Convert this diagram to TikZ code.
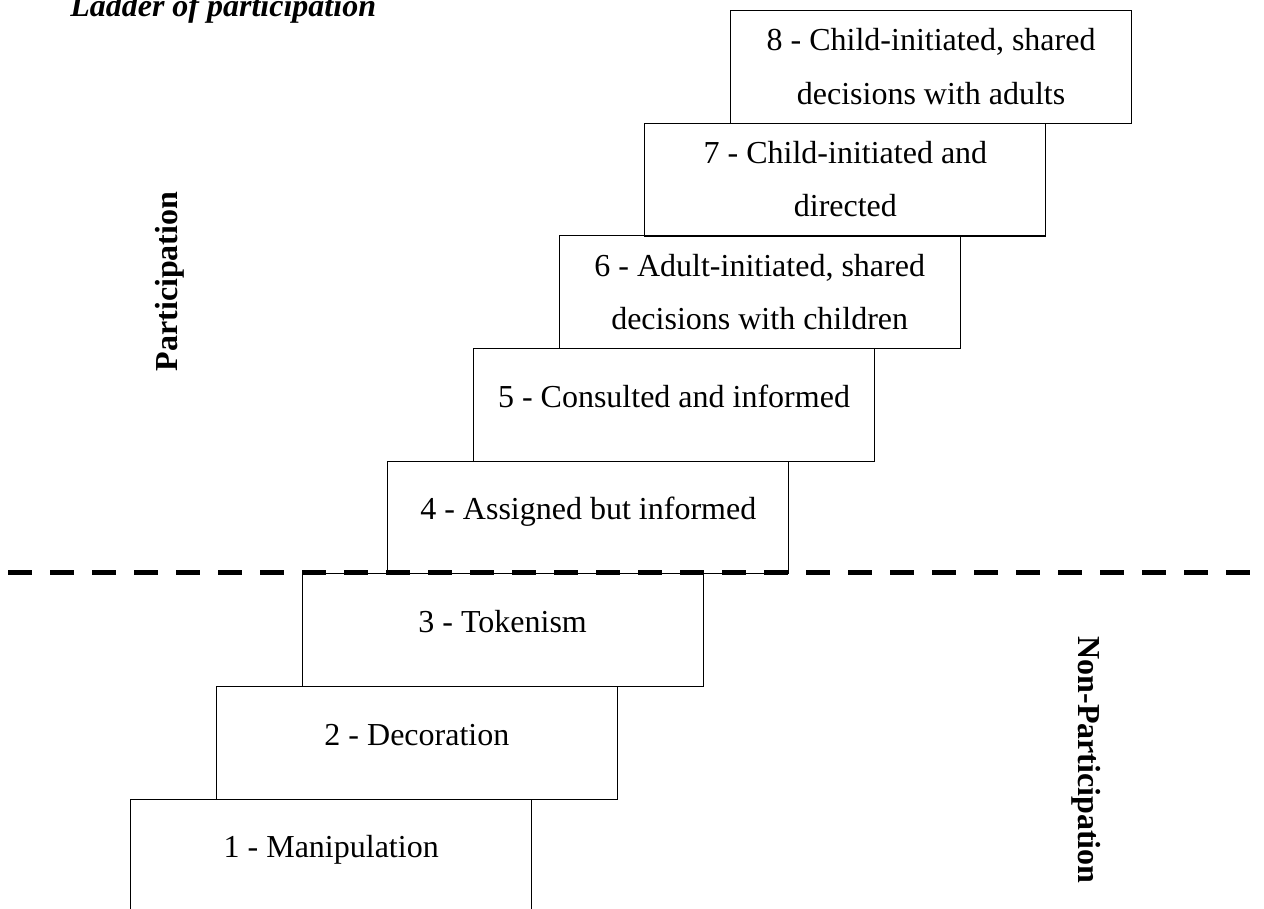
\documentclass[tikz,border=0pt]{standalone}
\usepackage{fontspec}
\setmainfont{Liberation Serif}
\usepackage{tikz}
\usetikzlibrary{positioning}

\tikzset{rung/.style={draw, line width=0.8pt, minimum width=300.75pt, minimum height=84.5pt,
    inner sep=0pt, align=center, font=\fontsize{24}{36}\selectfont}}
% label with its first baseline #1 above the middle of the rung
\newcommand{\rungtext}[2]{\raisebox{#1}[0pt][0pt]{\begin{tabular}[t]{@{}c@{}}#2\end{tabular}}}

\begin{document}
\begin{tikzpicture}[x=0.75pt, y=-0.75pt]
    \useasboundingbox (0,0) rectangle (1264,909);
    \clip (0,0) rectangle (1264,909);

    % the rungs, bottom to top
    \foreach \n/\t/\s in {1/{1 - Manipulation}/-1.65, 2/{2 - Decoration}/-1.65, 3/{3 - Tokenism}/-1.65,
        4/{4 - Assigned but informed}/-1.65, 5/{5 - Consulted and informed}/-1.65,
        6/{6 - Adult-initiated, shared\\[4pt]decisions with children}/12,
        7/{7 - Child-initiated and\\[4pt]directed}/12,
        8/{8 - Child-initiated, shared\\[4pt]decisions with adults}/12.2}
        \node[rung] (rung\n) at ({331.2+85.7*(\n-1)}, {855.6-112.66*(\n-1)}) {\rungtext{\s pt}{\t}};

    \coordinate (divL) at (8.3,572.3);
    \coordinate (divR) at (1251.7,572.3);
    \draw[line width=3.75pt, dash pattern=on 18pt off 13.5pt] (divL) -- (divR);

    \node[anchor=base west, inner sep=0pt, font=\fontsize{24}{29}\selectfont\bfseries\itshape] (title) at (70,16.7) {Ladder of participation};
    \node[rotate=90, inner sep=0pt, font=\fontsize{24}{29}\selectfont\bfseries] (part) at (169.5,281.5) {Participation};
    \node[rotate=-90, inner sep=0pt, font=\fontsize{24}{29}\selectfont\bfseries] (nonpart) at (1086.5,760) {Non-Participation};
\end{tikzpicture}
\end{document}
